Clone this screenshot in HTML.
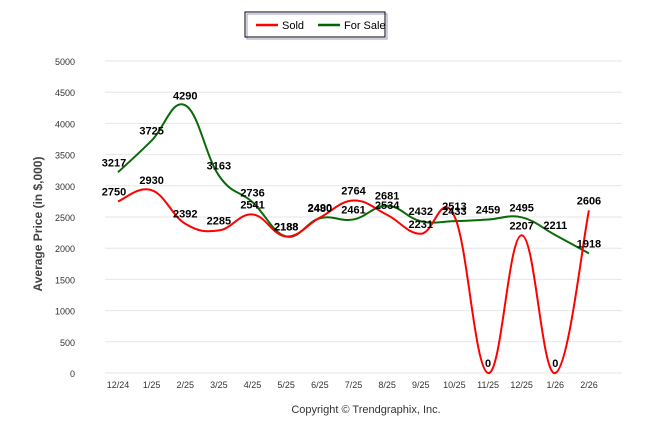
<!DOCTYPE html>
<html><head><meta charset="utf-8"><style>
body{margin:0;background:#fff;font-family:"Liberation Sans",sans-serif}
svg{display:block}
</style></head><body>
<svg width="646" height="434" id="c">
<g>
<rect x="245" y="12" width="140" height="25" fill="#fff" stroke="#000" stroke-width="1"/>
<rect x="247" y="14" width="140" height="25" fill="none" stroke="#2a3a7a" stroke-width="1" opacity="0.5"/>
<line x1="256" y1="25" x2="278" y2="25" stroke="#f00" stroke-width="2.5"/>
<text x="282" y="29" font-size="11">Sold</text>
<line x1="318" y1="25" x2="340" y2="25" stroke="#060" stroke-width="2.5"/>
<text x="344" y="29" font-size="11">For Sale</text>
</g>
<text transform="translate(42,224) rotate(-90)" text-anchor="middle" font-size="12" font-weight="bold" fill="#444">Average Price (in $,000)</text>
<text x="366" y="413" text-anchor="middle" font-size="11" fill="#333">Copyright © Trendgraphix, Inc.</text>
<g id="grid"></g><g id="lines"></g><g id="labels"></g>
</svg>
<script>
const categories=["12/24","1/25","2/25","3/25","4/25","5/25","6/25","7/25","8/25","9/25","10/25","11/25","12/25","1/26","2/26"];
const sold=[2750,2930,2392,2285,2541,2188,2490,2764,2534,2231,2513,0,2207,0,2606];
const forSale=[3217,3725,4290,3163,2736,2188,2480,2461,2681,2432,2433,2459,2495,2211,1918];
const yTicks=[0,500,1000,1500,2000,2500,3000,3500,4000,4500,5000];
const NS="http://www.w3.org/2000/svg";
const x=i=>118+i*33.64, y=v=>373-v*0.0624;
function el(t,a,p){const e=document.createElementNS(NS,t);for(const k in a)e.setAttribute(k,a[k]);document.getElementById(p).appendChild(e);return e;}
yTicks.forEach(v=>{
 const l=el('line',{x1:105,x2:622,y1:y(v),y2:y(v),stroke:'#e6e6e6','stroke-width':1},'grid');
 
 
 const t=el('text',{x:75,y:y(v)+4,'text-anchor':'end','font-size':9,fill:'#333'},'grid');t.textContent=v;
 
 
});
categories.forEach((c,i)=>{
 const t=el('text',{x:x(i),y:388,'text-anchor':'middle','font-size':9,fill:'#333'},'grid');t.textContent=c;
 
 
});
function path(d){
 const p=d.map((v,i)=>[x(i),y(v)]);let s=`M${p[0][0]},${p[0][1]}`;
 for(let i=0;i<p.length-1;i++){
  const p0=p[i-1]||p[i],p1=p[i],p2=p[i+1],p3=p[i+2]||p2;
  const k=1/5;
  s+=` C${p1[0]+(p2[0]-p0[0])*k},${p1[1]+(p2[1]-p0[1])*k} ${p2[0]-(p3[0]-p1[0])*k},${p2[1]-(p3[1]-p1[1])*k} ${p2[0]},${p2[1]}`;
 }return s;}
const sp=el('path',{d:path(forSale),fill:'none',stroke:'#0a6a0a','stroke-width':2},'lines');


const sl=el('path',{d:path(sold),fill:'none',stroke:'#f00','stroke-width':2},'lines');


[[sold,'sold-value-label'],[forSale,'for-sale-value-label']].forEach(([d,n])=>d.forEach((v,i)=>{
 const t=el('text',{x:x(i)+(i===0?-4:0),y:y(v)-6,'text-anchor':'middle','font-size':11,'font-weight':'bold',fill:'#000'},'labels');t.textContent=v;
 
 
}));
</script>
</body></html>
